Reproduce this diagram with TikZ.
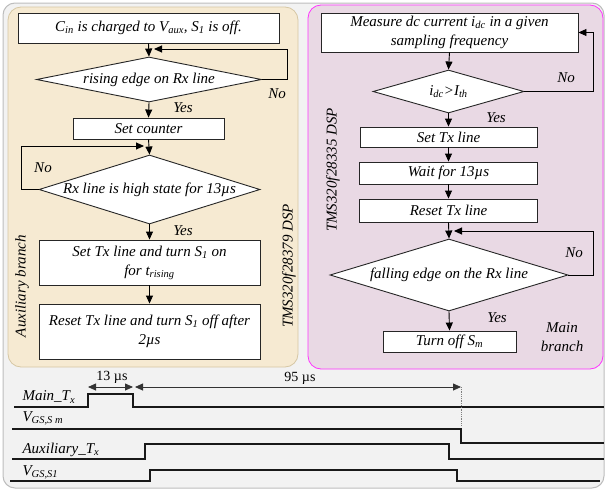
\documentclass[tikz,border=0pt]{standalone}
\usepackage{fontspec}
\setmainfont{Liberation Serif}
\usetikzlibrary{arrows.meta,shapes.geometric,calc}
\definecolor{outerbg}{HTML}{F2F2F2}
\definecolor{outerbd}{HTML}{BDBDBD}
\definecolor{beige}{HTML}{F6EAD2}
\definecolor{beigebd}{HTML}{D6C7A4}
\definecolor{lilac}{HTML}{E9D9E4}
\definecolor{magbd}{HTML}{FF33FF}
\newcommand{\sbs}[1]{\textsubscript{#1}}
\begin{document}
\begin{tikzpicture}[x=1pt,y=-1pt,
  every node/.style={font=\fontsize{15}{19}\selectfont\itshape, text=black},
  box/.style={draw=black!85, fill=white, line width=0.9pt, inner sep=0pt, align=center},
  dia/.style={draw=black!85, fill=white, line width=0.9pt, diamond, inner sep=0pt},
  arr/.style={draw=black, line width=0.9pt, -{Triangle[length=8pt,width=7pt]}},
  dimarr/.style={draw=black!80, line width=0.8pt, {Triangle[length=8pt,width=7pt]}-{Triangle[length=8pt,width=7pt]}},
  wave/.style={draw=black!90, line width=1.3pt},
  yn/.style={inner sep=0pt}]
\useasboundingbox (0,0) rectangle (605,490);
% backgrounds
\draw[fill=outerbg, draw=outerbd, line width=1pt, rounded corners=12pt] (3,3) rectangle (604,488);
\draw[fill=beige, draw=beigebd, line width=0.8pt, rounded corners=13pt] (8,7) rectangle (298,367);
\draw[fill=lilac, draw=magbd, line width=0.8pt, rounded corners=13pt] (308,5) rectangle (603,369);

% ---------- left (auxiliary) branch ----------
\node[box, minimum width=261pt, minimum height=30pt] (b1) at (148.5,28) {C\sbs{in} is charged to V\sbs{aux}, S\sbs{1} is off.};
\node[dia, minimum width=225pt, minimum height=45pt] (d1) at (149,79.5) {};
\node (d1t) at (d1.center) {rising edge on Rx line};
\node[box, minimum width=151pt, minimum height=21pt] (b2) at (148.5,128.5) {Set counter};
\node[dia, minimum width=221pt, minimum height=69pt] (d2) at (149.5,189.5) {};
\node (d2t) at (d2.center) {Rx line is high state for 13µs};
\node[box, minimum width=221pt, minimum height=45pt] (b3) at (149.5,262.5) {Set Tx line and turn S\sbs{1} on\\for t\sbs{rising}};
\node[box, minimum width=221pt, minimum height=55pt] (b4) at (149.5,331.5) {Reset Tx line and turn S\sbs{1} off after\\2µs};

\coordinate (m1) at (149,49);
\coordinate (l1) at (287,49);
\coordinate (m2) at (149,146);
\coordinate (l2) at (21,146);
\draw[arr] (b1.south) -- (d1.north);
\draw[arr] (d1.east) -| (l1) -- ([xshift=5pt]m1);
\draw[arr] (d1.south) -- (b2.north);
\draw[arr] (b2.south) -- (d2.north);
\draw[arr] (d2.west) -| (l2) -- ([xshift=-5pt]m2);
\draw[arr] (d2.south) -- (b3.north);
\draw[arr] (b3.south) -- (b4.north);
\node[yn] (no1) at (277,94) {No};
\node[yn] (yes1) at (183,108) {Yes};
\node[yn] (no2) at (43,168) {No};
\node[yn] (yes2) at (183,231) {Yes};
\node[rotate=90] (aux) at (22,286) {Auxiliary branch};
\node[rotate=90] (dspa) at (289,266) {TMS320f28379 DSP};

% ---------- right (main) branch ----------
\node[box, minimum width=257pt, minimum height=39pt] (r1) at (449.5,32.5) {Measure dc current i\sbs{dc} in a given\\sampling frequency};
\node[dia, minimum width=151pt, minimum height=43pt] (rd1) at (448.5,91.5) {};
\node (rd1t) at (rd1.center) {i\sbs{dc}>I\sbs{th}};
\node[box, minimum width=177pt, minimum height=20pt] (r2) at (448.5,137) {Set Tx line};
\node[box, minimum width=178pt, minimum height=22pt] (r3) at (448.5,173) {Wait for 13µs};
\node[box, minimum width=178pt, minimum height=23pt] (r4) at (448.5,210.5) {Reset Tx line};
\node[dia, minimum width=238pt, minimum height=72pt] (rd2) at (449,275) {};
\node (rd2t) at (rd2.center) {falling edge on the Rx line};
\node[box, minimum width=133pt, minimum height=21pt] (r5) at (449.5,341.5) {Turn off S\sbs{m}};

\coordinate (rl1) at (593,32.5);
\coordinate (m4) at (449,231);
\coordinate (rl2) at (593,231);
\draw[arr] (r1.south) -- (rd1.north);
\draw[arr] (rd1.east) -| (rl1) -- (r1.east);
\draw[arr] (rd1.south) -- (r2.north);
\draw[arr] (r2.south) -- (r3.north);
\draw[arr] (r3.south) -- (r4.north);
\draw[arr] (r4.south) -- (rd2.north);
\draw[arr] (rd2.east) -| (rl2) -- ([xshift=5pt]m4);
\draw[arr] (rd2.south) -- (r5.north);
\node[yn] (no3) at (566,78) {No};
\node[yn] (yes3) at (496,118) {Yes};
\node[yn] (no4) at (574,253) {No};
\node[yn] (yes4) at (497,318) {Yes};
\node[align=center] (mb) at (562,337) {Main\\branch};
\node[rotate=90] (dspb) at (333,170) {TMS320f28335 DSP};

% ---------- timing diagram ----------
\node[anchor=west] (tmx) at (19,397) {Main\_T\sbs{x}};
\node[anchor=west] (tvm) at (19,418) {V\sbs{GS,S m}};
\node[anchor=west] (tax) at (19,450) {Auxiliary\_T\sbs{x}};
\node[anchor=west] (tv1) at (19,472) {V\sbs{GS,S1}};

\draw[wave] (14,407) -- (88,407) -- (88,394) -- (133,394) -- (133,407) -- (604,407);
\draw[wave] (12,429) -- (461,429) -- (461,443) -- (604,443);
\draw[wave] (12,459) -- (145,459) -- (145,444) -- (449,444) -- (449,459) -- (604,459);
\draw[wave] (10,481) -- (150,481) -- (150,470) -- (457,470) -- (457,481) -- (600,481);

\draw[dimarr] (88,387) -- (133,387);
\draw[dimarr] (135,387) -- (461,387);
\draw[black!50, line width=0.8pt, densely dotted] (461,387) -- (461,425);
\node[font=\fontsize{14}{16}\selectfont\upshape] (t13) at (112,377) {13 µs};
\node[font=\fontsize{14}{16}\selectfont\upshape] (t95) at (300,378) {95 µs};
\end{tikzpicture}
\end{document}
